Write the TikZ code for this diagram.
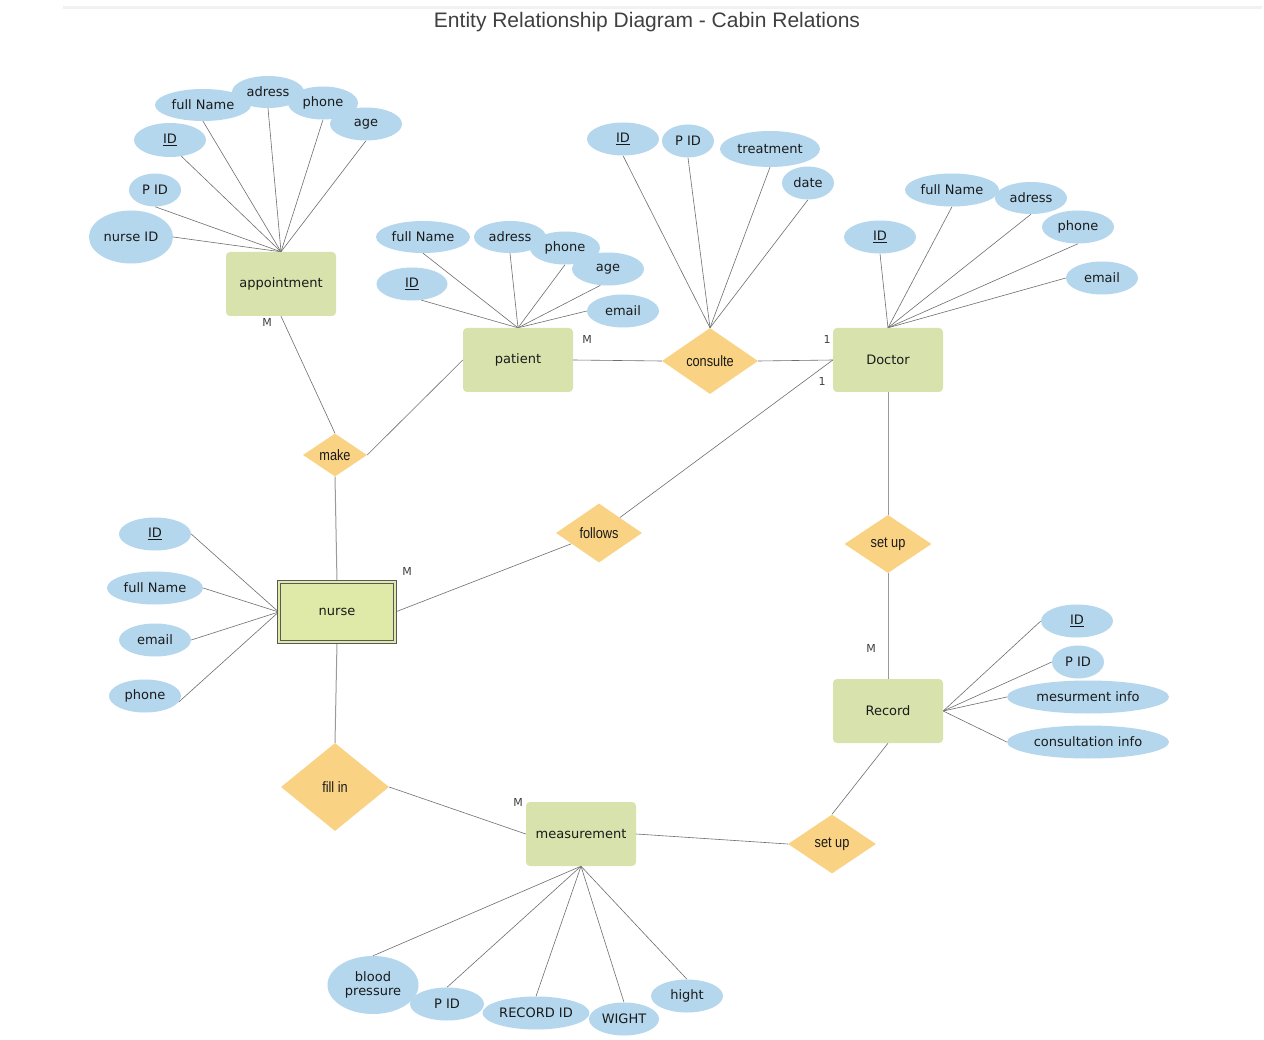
\documentclass[tikz,border=0pt]{standalone}
\usepackage{fontspec}
\setmainfont{DejaVu Sans}
\newfontfamily\titlefont{Liberation Sans}
\newfontfamily\relfont[FakeStretch=0.85]{Liberation Sans}
\usetikzlibrary{shapes.geometric}

\definecolor{entfill}{HTML}{D8E2AD}
\definecolor{weakfill}{HTML}{DFEAA8}
\definecolor{relfill}{HTML}{FAD283}
\definecolor{attrfill}{HTML}{B4D7EE}
\definecolor{attrline}{HTML}{6E6E6E}
\definecolor{relline}{HTML}{9A9A9A}
\definecolor{txt}{HTML}{1A1A1A}
\definecolor{titlecol}{HTML}{404040}
\definecolor{rulecol}{HTML}{F1F1F1}

\pgfdeclarelayer{bg}
\pgfdeclarelayer{links}
\pgfsetlayers{bg,links,main}

\begin{document}
\begin{tikzpicture}[x=1pt,y=-1pt,
  attr/.style={ellipse, fill=attrfill, inner sep=0pt, text=txt,
    font=\fontsize{13}{14.5}\selectfont},
  ent/.style={rectangle, rounded corners=4pt, fill=entfill, inner sep=0pt,
    minimum width=110pt, minimum height=64pt, text=txt,
    font=\fontsize{13}{14.5}\selectfont},
  weakent/.style={rectangle, fill=weakfill, draw=black!65, double=weakfill,
    double distance=2.6pt, line width=0.7pt, inner sep=0pt,
    minimum width=116pt, minimum height=60pt, text=txt,
    font=\fontsize{13}{14.5}\selectfont},
  rel/.style={diamond, fill=relfill, inner sep=0pt, text=txt,
    font=\relfont\fontsize{15}{16}\selectfont},
  attrlink/.style={draw=attrline, line width=0.6pt},
  rellink/.style={draw=relline, line width=1pt},
  card/.style={text=black!75, font=\fontsize{11}{12}\selectfont}]

\begin{pgfonlayer}{bg}
  \fill[white] (0,0) rectangle (1264,1040);
  \fill[rulecol] (63,6.5) rectangle (1262,9.5);
\end{pgfonlayer}
\useasboundingbox (0,0) rectangle (1264,1040);

% title
\node (title) at (647,22) {\titlefont\fontsize{21}{24}\selectfont\color{titlecol}Entity Relationship Diagram - Cabin Relations};

% entities
\node[ent] (appointment) at (281,284) {appointment};
\node[ent] (patient) at (518,360) {patient};
\node[ent] (doctor) at (888,360) {Doctor};
\node[ent] (record) at (888,711) {Record};
\node[ent] (measurement) at (581,834) {measurement};
\node[weakent] (nurse) at (337,612) {nurse};

% relationships
\node[rel, minimum width=64pt, minimum height=43pt] (make) at (335,455) {make};
\node[rel, minimum width=96pt, minimum height=66pt] (consulte) at (710,361) {consulte};
\node[rel, minimum width=86pt, minimum height=59pt] (follows) at (599,533) {follows};
\node[rel, minimum width=87pt, minimum height=58pt] (setupA) at (888,544) {set up};
\node[rel, minimum width=108pt, minimum height=88pt] (fillin) at (335,787) {fill in};
\node[rel, minimum width=88pt, minimum height=59pt] (setupB) at (832,844) {set up};

% appointment attributes
\node[attr, minimum width=96pt, minimum height=32pt] (aFull) at (203,105) {full Name};
\node[attr, minimum width=72pt, minimum height=32pt] (aAdr) at (268,92) {adress};
\node[attr, minimum width=70pt, minimum height=33pt] (aPhone) at (323,103) {phone};
\node[attr, minimum width=72pt, minimum height=33pt] (aAge) at (366,124) {age};
\node[attr, minimum width=72pt, minimum height=34pt] (aID) at (170,140) {\underline{ID}};
\node[attr, minimum width=52pt, minimum height=33pt] (aPID) at (155,190) {P ID};
\node[attr, minimum width=84pt, minimum height=53pt] (aNurse) at (131,237) {nurse ID};

% patient attributes
\node[attr, minimum width=94pt, minimum height=32pt] (pFull) at (423,237) {full Name};
\node[attr, minimum width=72pt, minimum height=32pt] (pAdr) at (510,237) {adress};
\node[attr, minimum width=70pt, minimum height=33pt] (pPhone) at (565,248) {phone};
\node[attr, minimum width=72pt, minimum height=33pt] (pAge) at (608,269) {age};
\node[attr, minimum width=71pt, minimum height=33pt] (pID) at (412,284) {\underline{ID}};
\node[attr, minimum width=72pt, minimum height=33pt] (pEmail) at (623,311) {email};

% consulte attributes
\node[attr, minimum width=72pt, minimum height=33pt] (cID) at (623,139) {\underline{ID}};
\node[attr, minimum width=52pt, minimum height=33pt] (cPID) at (688,141) {P ID};
\node[attr, minimum width=100pt, minimum height=36pt] (cTreat) at (770,149) {treatment};
\node[attr, minimum width=52pt, minimum height=33pt] (cDate) at (808,183) {date};

% doctor attributes
\node[attr, minimum width=94pt, minimum height=33pt] (dFull) at (952,190) {full Name};
\node[attr, minimum width=72pt, minimum height=32pt] (dAdr) at (1031,198) {adress};
\node[attr, minimum width=72pt, minimum height=33pt] (dPhone) at (1078,227) {phone};
\node[attr, minimum width=72pt, minimum height=33pt] (dEmail) at (1102,278) {email};
\node[attr, minimum width=72pt, minimum height=33pt] (dID) at (880,237) {\underline{ID}};

% nurse attributes
\node[attr, minimum width=72pt, minimum height=33pt] (nID) at (155,534) {\underline{ID}};
\node[attr, minimum width=96pt, minimum height=33pt] (nFull) at (155,588) {full Name};
\node[attr, minimum width=72pt, minimum height=33pt] (nEmail) at (155,640) {email};
\node[attr, minimum width=72pt, minimum height=33pt] (nPhone) at (145,696) {phone};

% record attributes
\node[attr, minimum width=72pt, minimum height=33pt] (rID) at (1077,621) {\underline{ID}};
\node[attr, minimum width=52pt, minimum height=33pt] (rPID) at (1078,662) {P ID};
\node[attr, minimum width=162pt, minimum height=33pt] (rMeas) at (1088,697) {mesurment info};
\node[attr, minimum width=162pt, minimum height=33pt] (rCons) at (1088,742) {consultation info};

% measurement attributes
\node[attr, minimum width=91pt, minimum height=58pt, align=center] (mBP) at (373,985) {blood\\pressure};
\node[attr, minimum width=74pt, minimum height=33pt] (mPID) at (447,1004) {P ID};
\node[attr, minimum width=107pt, minimum height=33pt] (mRec) at (536,1013) {RECORD ID};
\node[attr, minimum width=70pt, minimum height=33pt] (mWight) at (624,1019) {WIGHT};
\node[attr, minimum width=72pt, minimum height=33pt] (mHight) at (687,996) {hight};

% connectors
\begin{pgfonlayer}{links}
  \foreach \a in {aFull.south,aAdr.south,aPhone.south,aAge.south,aID.-55,aPID.south,aNurse.east}
    \draw[attrlink] (\a) -- (appointment.north);
  \foreach \a in {pFull.south,pAdr.south,pPhone.south,pAge.-115,pID.-60,pEmail.west}
    \draw[attrlink] (\a) -- (patient.north);
  \foreach \a in {cID.south,cPID.south,cTreat.south,cDate.south}
    \draw[attrlink] (\a) -- (consulte.north);
  \foreach \a in {dFull.south,dAdr.south,dPhone.south,dEmail.west,dID.south}
    \draw[attrlink] (\a) -- (doctor.north);
  \foreach \a in {nID.east,nFull.east,nEmail.east,nPhone.-10}
    \draw[attrlink] (\a) -- (nurse.west);
  \foreach \a in {rID.west,rPID.west,rMeas.west,rCons.west}
    \draw[attrlink] (\a) -- (record.east);
  \foreach \a in {mBP.north,mPID.north,mRec.north,mWight.north,mHight.north}
    \draw[attrlink] (\a) -- (measurement.south);

  \draw[attrlink] (appointment.south) -- (make.north);
  \draw[attrlink] (make.east) -- (patient.west);
  \draw[rellink] (make.south) -- (nurse.north);
  \draw[attrlink] (patient.east) -- (consulte.west);
  \draw[attrlink] (consulte.east) -- (doctor.west);
  \draw[attrlink] (doctor.west) -- (follows);
  \draw[attrlink] (nurse.east) -- (follows);
  \draw[rellink] (doctor.south) -- (setupA.north);
  \draw[rellink] (setupA.south) -- (record.north);
  \draw[rellink] (nurse.south) -- (fillin.north);
  \draw[attrlink] (fillin.east) -- (measurement.west);
  \draw[attrlink] (measurement.east) -- (setupB.west);
  \draw[attrlink] (setupB.north) -- (record.south);
\end{pgfonlayer}

% cardinalities
\node[card] (cardA) at (267,322) {M};
\node[card] (cardB) at (587,339) {M};
\node[card] (cardC) at (827,339) {1};
\node[card] (cardD) at (822,381) {1};
\node[card] (cardE) at (407,571) {M};
\node[card] (cardF) at (871,648) {M};
\node[card] (cardG) at (518,802) {M};
\end{tikzpicture}
\end{document}
